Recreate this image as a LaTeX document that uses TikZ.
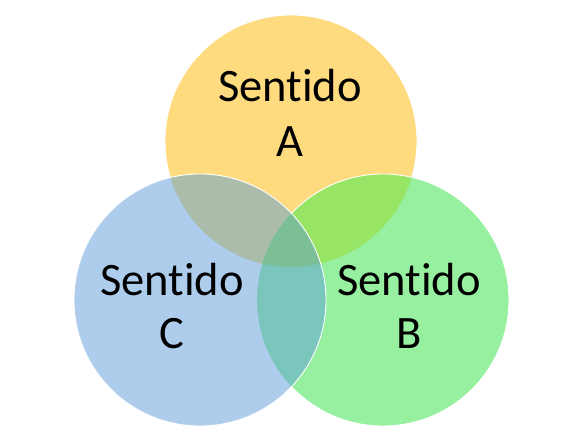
\documentclass[tikz,border=0pt]{standalone}
\usepackage{fontspec}
\setmainfont[Ligatures={NoCommon,NoContextual}]{Carlito}
\definecolor{cA}{RGB}{255,219,128}
\definecolor{cB}{RGB}{150,240,160}
\definecolor{cC}{RGB}{174,204,235}
\definecolor{cAB}{RGB}{152,228,100}
\definecolor{cAC}{RGB}{172,188,170}
\definecolor{cBC}{RGB}{122,198,188}
\definecolor{cABC}{RGB}{124,190,150}
\begin{document}
\begin{tikzpicture}[x=1pt,y=-1pt,
  rim/.style={draw=white,line width=0.9pt},
  lbl/.style={anchor=base,inner sep=0pt,font=\fontsize{46.5}{54}\selectfont,text=black}]
\useasboundingbox (0,0) rectangle (573,442);
\def\R{126}
\coordinate (pA) at (291,141);
\coordinate (pB) at (383,300);
\coordinate (pC) at (200,300);
% circle A
\fill[cA] (pA) circle (\R);
\draw[rim] (pA) circle (\R);
% circle B
\fill[cB] (pB) circle (\R);
\begin{scope}
  \clip (pB) circle (\R);
  \fill[cAB] (pA) circle (\R);
\end{scope}
\draw[rim] (pB) circle (\R);
% circle C
\fill[cC] (pC) circle (\R);
\begin{scope}
  \clip (pC) circle (\R);
  \fill[cAC] (pA) circle (\R);
  \fill[cBC] (pB) circle (\R);
  \clip (pB) circle (\R);
  \fill[cABC] (pA) circle (\R);
\end{scope}
\draw[rim] (pC) circle (\R);
% labels
\node[lbl] (a1) at (290,101.7) {Sentido};
\node[lbl] (a2) at (290,156.7) {A};
\node[lbl] (b1) at (409,295) {Sentido};
\node[lbl] (b2) at (409,348.3) {B};
\node[lbl] (c1) at (172,295) {Sentido};
\node[lbl] (c2) at (172,348.3) {C};
\end{tikzpicture}
\end{document}
